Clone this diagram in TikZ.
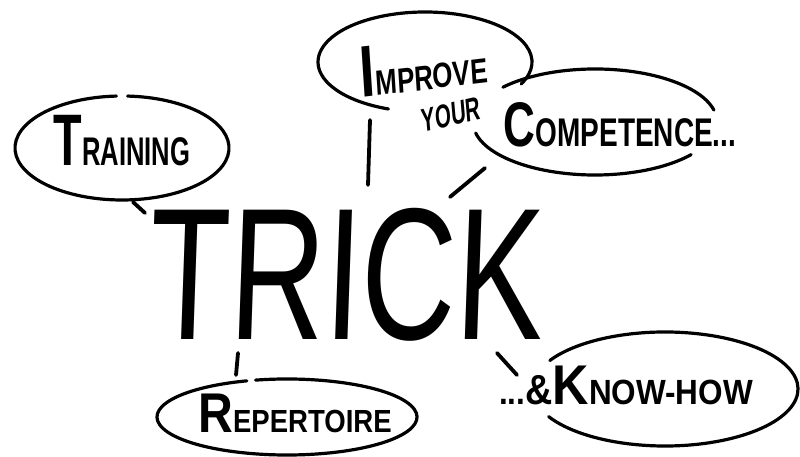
\documentclass[tikz,border=0pt]{standalone}
\usepackage{fontspec}
\setmainfont{Liberation Sans}
\tikzset{
  bubble/.style={line width=3.2pt, line cap=round},
  link/.style={line width=3.8pt, line cap=round},
  lbl/.style={inner sep=0pt, anchor=base, font=\bfseries},
}
\newcommand{\hwtext}[4]{{\fontsize{#1}{#1}\selectfont #3}{\fontsize{#2}{#2}\selectfont #4}}
\begin{document}
\begin{tikzpicture}[x=1pt,y=1pt]
\useasboundingbox (0,0) rectangle (800,457);
\fill[white] (0,0) rectangle (800,457);

% centres of the bubbles
\coordinate (trainC) at (122,309);
\coordinate (impC) at (425,395);
\coordinate (compC) at (595,335);
\coordinate (repC) at (287,40);
\coordinate (knowC) at (665,68);

% bubbles
\draw[bubble] (trainC) ++(93:107 and 52) arc[start angle=93, end angle=447, x radius=107, y radius=52];
\draw[bubble] (impC) ++(-26:107 and 50) arc[start angle=-26, end angle=250, x radius=107, y radius=50];
\draw[bubble] (compC) ++(13:122 and 53) arc[start angle=13, end angle=139, x radius=122, y radius=53];
\draw[bubble] (compC) ++(192:122 and 53) arc[start angle=192, end angle=322, x radius=122, y radius=53];
\draw[bubble] (repC) ++(108:130 and 38) arc[start angle=108, end angle=464, x radius=130, y radius=38];
\draw[bubble] (knowC) ++(-151:133 and 57) arc[start angle=-151, end angle=150, x radius=133, y radius=57];

% texts
\node[lbl, xscale=0.64] (training) at (122,291) {\hwtext{73}{40}{T}{RAINING}};
\node[lbl, xscale=0.74, rotate=5] (improve) at (425,367) {\hwtext{73}{35}{I}{MPROVE}};
\node[lbl, xscale=0.62, rotate=8] (your) at (452,331) {\fontsize{33}{33}\selectfont YOUR};
\node[lbl, xscale=0.70] (competence) at (620,310) {\hwtext{63}{40}{C}{OMPETENCE...}};
\node[lbl, xscale=0.86] (repertoire) at (295,24) {\hwtext{56}{32}{R}{EPERTOIRE}};
\node[lbl, xscale=0.90] (knowhow) at (626,52) {{\fontsize{35}{35}\selectfont ...}{\fontsize{42}{42}\selectfont\&}\hwtext{56}{35}{K}{NOW-HOW}};
\node[lbl, font=\mdseries, xscale=0.70, xslant=0.05] (trick) at (345,117) {\fontsize{188}{188}\selectfont TRICK};

% connectors
\coordinate (l1a) at (133,255); \coordinate (l1b) at (145,244);
\coordinate (l2a) at (370,337); \coordinate (l2b) at (368,272);
\coordinate (l3a) at (485,289); \coordinate (l3b) at (450,260);
\coordinate (l4a) at (238,104); \coordinate (l4b) at (236,82);
\coordinate (l5a) at (497,104); \coordinate (l5b) at (517,82);
\draw[link] (l1a) -- (l1b);
\draw[link] (l2a) -- (l2b);
\draw[link] (l3a) -- (l3b);
\draw[link] (l4a) -- (l4b);
\draw[link] (l5a) -- (l5b);
\end{tikzpicture}
\end{document}
